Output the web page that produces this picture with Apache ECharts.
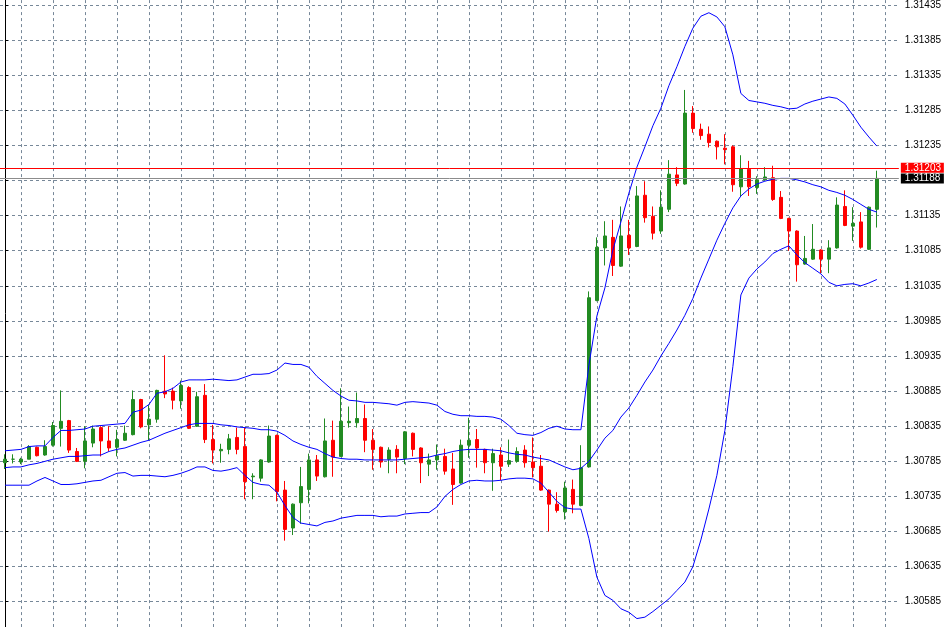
<!DOCTYPE html>
<html>
<head>
<meta charset="utf-8">
<script src="https://cdn.jsdelivr.net/npm/echarts@6.0.0/dist/echarts.min.js"></script>
<style>
html,body{margin:0;padding:0;background:#ffffff;}
#chart{width:944px;height:627px;}
</style>
</head>
<body>
<div id="chart"></div>
<script>
// ---- data (5-digit quotes) ----
const openP = [1.30783,1.30788,1.30784,1.30788,1.30805,1.30794,1.30808,1.30832,1.30843,1.30799,
 1.30785,1.30811,1.30833,1.30814,1.30805,1.30815,1.30823,1.30873,1.30837,1.30845,
 1.30885,1.30885,1.30871,1.30890,1.30835,1.30879,1.30816,1.30800,1.30802,1.30819,
 1.30806,1.30763,1.30761,1.30784,1.30822,1.30744,1.30690,1.30726,1.30745,1.30787,
 1.30763,1.30815,1.30792,1.30840,1.30840,1.30846,1.30815,1.30805,1.30788,1.30802,
 1.30789,1.30825,1.30804,1.30781,1.30787,1.30792,1.30774,1.30754,1.30808,1.30816,
 1.30802,1.30783,1.30794,1.30781,1.30785,1.30801,1.30784,1.30778,1.30744,1.30724,
 1.30713,1.30745,1.30722,1.30777,1.31014,1.31089,1.31104,1.31063,1.31107,1.31091,
 1.31164,1.31134,1.31113,1.31144,1.31193,1.31180,1.31281,1.31258,1.31251,1.31241,
 1.31231,1.31233,1.31176,1.31201,1.31175,1.31186,1.31189,1.31161,1.31131,1.31113,
 1.31066,1.31073,1.31086,1.31073,1.31089,1.31148,1.31120,1.31126,1.31087,1.31144];

const highP = [1.30795,1.30795,1.30790,1.30808,1.30806,1.30815,1.30841,1.30886,1.30844,1.30804,
 1.30835,1.30836,1.30835,1.30835,1.30830,1.30836,1.30886,1.30874,1.30865,1.30887,
 1.30936,1.30890,1.30900,1.30892,1.30884,1.30895,1.30837,1.30810,1.30824,1.30833,
 1.30833,1.30768,1.30788,1.30836,1.30823,1.30757,1.30725,1.30777,1.30796,1.30794,
 1.30846,1.30843,1.30889,1.30863,1.30883,1.30866,1.30831,1.30806,1.30805,1.30808,
 1.30828,1.30826,1.30805,1.30796,1.30809,1.30803,1.30797,1.30816,1.30847,1.30831,
 1.30803,1.30803,1.30805,1.30816,1.30805,1.30808,1.30819,1.30794,1.30745,1.30741,
 1.30756,1.30759,1.30808,1.31027,1.31104,1.31127,1.31129,1.31148,1.31129,1.31177,
 1.31184,1.31148,1.31171,1.31214,1.31204,1.31314,1.31291,1.31266,1.31262,1.31242,
 1.31251,1.31235,1.31221,1.31213,1.31191,1.31204,1.31206,1.31170,1.31132,1.31114,
 1.31106,1.31123,1.31087,1.31100,1.31161,1.31171,1.31147,1.31140,1.31148,1.31199];

const lowP = [1.30774,1.30782,1.30781,1.30788,1.30792,1.30793,1.30806,1.30806,1.30797,1.30784,
 1.30775,1.30805,1.30792,1.30799,1.30792,1.30814,1.30822,1.30832,1.30815,1.30840,
 1.30875,1.30859,1.30860,1.30831,1.30834,1.30811,1.30782,1.30783,1.30795,1.30795,
 1.30731,1.30731,1.30756,1.30783,1.30728,1.30672,1.30680,1.30696,1.30725,1.30757,
 1.30762,1.30763,1.30791,1.30833,1.30833,1.30798,1.30773,1.30776,1.30768,1.30768,
 1.30781,1.30792,1.30754,1.30764,1.30773,1.30766,1.30723,1.30753,1.30790,1.30776,
 1.30768,1.30743,1.30758,1.30777,1.30783,1.30776,1.30762,1.30743,1.30685,1.30712,
 1.30702,1.30711,1.30721,1.30776,1.31013,1.31064,1.31049,1.31062,1.31079,1.31090,
 1.31125,1.31101,1.31109,1.31140,1.31177,1.31179,1.31253,1.31243,1.31232,1.31215,
 1.31208,1.31169,1.31162,1.31163,1.31166,1.31185,1.31156,1.31130,1.31085,1.31041,
 1.31065,1.31072,1.31053,1.31053,1.31088,1.31120,1.31099,1.31088,1.31086,1.31118];

const closeP = [1.30788,1.30788,1.30788,1.30806,1.30793,1.30806,1.30836,1.30842,1.30801,1.30785,
 1.30814,1.30831,1.30814,1.30804,1.30816,1.30825,1.30873,1.30834,1.30845,1.30886,
 1.30881,1.30872,1.30893,1.30832,1.30877,1.30816,1.30801,1.30802,1.30817,1.30802,
 1.30756,1.30764,1.30787,1.30821,1.30742,1.30688,1.30724,1.30749,1.30787,1.30764,
 1.30814,1.30791,1.30842,1.30842,1.30846,1.30815,1.30802,1.30784,1.30801,1.30791,
 1.30827,1.30802,1.30783,1.30787,1.30793,1.30771,1.30752,1.30808,1.30815,1.30804,
 1.30783,1.30796,1.30778,1.30786,1.30799,1.30783,1.30776,1.30744,1.30724,1.30715,
 1.30747,1.30724,1.30776,1.31018,1.31090,1.31106,1.31064,1.31106,1.31089,1.31163,
 1.31132,1.31110,1.31147,1.31194,1.31181,1.31281,1.31259,1.31249,1.31239,1.31233,
 1.31229,1.31179,1.31202,1.31176,1.31186,1.31190,1.31158,1.31131,1.31113,1.31065,
 1.31074,1.31087,1.31073,1.31089,1.31150,1.31121,1.31124,1.31090,1.31147,1.31188];

const bbUpper = [1.30800,1.30801,1.30802,1.30806,1.30807,1.30807,1.30819,1.30829,1.30829,1.30830,
 1.30831,1.30835,1.30836,1.30837,1.30838,1.30839,1.30855,1.30858,1.30866,1.30882,
 1.30884,1.30889,1.30898,1.30901,1.30901,1.30901,1.30902,1.30901,1.30900,1.30901,
 1.30905,1.30909,1.30909,1.30910,1.30915,1.30925,1.30923,1.30923,1.30919,1.30906,
 1.30896,1.30886,1.30878,1.30872,1.30871,1.30869,1.30869,1.30868,1.30867,1.30865,
 1.30869,1.30870,1.30869,1.30868,1.30865,1.30856,1.30852,1.30850,1.30850,1.30849,
 1.30849,1.30848,1.30845,1.30836,1.30825,1.30823,1.30822,1.30826,1.30832,1.30835,
 1.30831,1.30830,1.30830,1.30922,1.30992,1.31032,1.31086,1.31126,1.31167,1.31204,
 1.31233,1.31263,1.31288,1.31320,1.31347,1.31376,1.31402,1.31419,1.31424,1.31418,
 1.31404,1.31364,1.31309,1.31299,1.31297,1.31295,1.31292,1.31290,1.31287,1.31288,
 1.31294,1.31298,1.31301,1.31304,1.31302,1.31294,1.31278,1.31261,1.31247,1.31234];

const bbMiddle = [1.30776,1.30777,1.30777,1.30780,1.30782,1.30785,1.30788,1.30790,1.30792,1.30792,
 1.30793,1.30794,1.30794,1.30799,1.30802,1.30804,1.30808,1.30812,1.30815,1.30820,
 1.30825,1.30829,1.30833,1.30837,1.30839,1.30839,1.30839,1.30837,1.30836,1.30834,
 1.30833,1.30832,1.30830,1.30830,1.30828,1.30822,1.30814,1.30809,1.30805,1.30802,
 1.30796,1.30791,1.30789,1.30788,1.30788,1.30787,1.30787,1.30787,1.30787,1.30787,
 1.30788,1.30789,1.30790,1.30791,1.30794,1.30796,1.30799,1.30801,1.30802,1.30802,
 1.30802,1.30801,1.30800,1.30797,1.30795,1.30794,1.30791,1.30789,1.30787,1.30782,
 1.30777,1.30773,1.30775,1.30785,1.30801,1.30818,1.30829,1.30848,1.30861,1.30879,
 1.30898,1.30915,1.30935,1.30953,1.30972,1.30993,1.31017,1.31046,1.31073,1.31100,
 1.31124,1.31146,1.31163,1.31173,1.31180,1.31184,1.31187,1.31188,1.31188,1.31186,
 1.31183,1.31179,1.31176,1.31171,1.31168,1.31164,1.31158,1.31151,1.31144,1.31140];

const bbLower = [1.30751,1.30751,1.30751,1.30751,1.30757,1.30762,1.30757,1.30752,1.30752,1.30753,
 1.30755,1.30757,1.30758,1.30763,1.30768,1.30769,1.30764,1.30765,1.30765,1.30764,
 1.30763,1.30765,1.30768,1.30772,1.30777,1.30777,1.30772,1.30771,1.30773,1.30776,
 1.30765,1.30755,1.30752,1.30751,1.30741,1.30722,1.30705,1.30697,1.30695,1.30693,
 1.30698,1.30700,1.30704,1.30706,1.30708,1.30708,1.30708,1.30706,1.30707,1.30707,
 1.30710,1.30711,1.30712,1.30712,1.30720,1.30735,1.30745,1.30752,1.30757,1.30758,
 1.30757,1.30757,1.30758,1.30760,1.30761,1.30761,1.30760,1.30754,1.30741,1.30728,
 1.30719,1.30717,1.30717,1.30675,1.30620,1.30594,1.30587,1.30575,1.30570,1.30561,
 1.30563,1.30571,1.30580,1.30589,1.30601,1.30613,1.30635,1.30673,1.30717,1.30765,
 1.30829,1.30920,1.31022,1.31046,1.31059,1.31069,1.31081,1.31087,1.31092,1.31079,
 1.31068,1.31060,1.31052,1.31040,1.31035,1.31037,1.31038,1.31035,1.31039,1.31044];

const priceTicks = [1.30585,1.30635,1.30685,1.30735,1.30785,1.30835,1.30885,1.30935,1.30985,
 1.31035,1.31085,1.31135,1.31185,1.31235,1.31285,1.31335,1.31385,1.31435];
const priceLabels = [1.30585,1.30635,1.30685,1.30735,1.30785,1.30835,1.30885,1.30935,1.30985,
 1.31035,1.31085,1.31135,1.31235,1.31285,1.31335,1.31385,1.31435];
const timeGridBars = [2,6,10,14,18,22,26,30,34,38,42,46,50,54,58,62,66,70,74,78,82,86,90,94,98,102,106,110];
const askPrice = 1.31203;
const bidPrice = 1.31188;

// ---- axis ranges ----
const X_MIN = -0.625, X_MAX = 111.75;
const Y_MIN = 1.30549, Y_MAX = 1.31442;

// ---- build series data ----
const candles = openP.map((o, i) => [i, o, closeP[i], lowP[i], highP[i]]);
const toLine = arr => arr.map((v, i) => [i, v]);

const FONT = '"Liberation Sans", Arial, sans-serif';
const GRID_COLOR = '#778899';

function priceLine(value, lineColor, bg) {
  return [
    {coord: [X_MIN, value], lineStyle: {color: lineColor, width: 1, type: 'solid'},
     label: {
       show: true, position: 'end', distance: 2,
       formatter: value.toFixed(5),
       color: '#ffffff', backgroundColor: bg,
       fontSize: 10, fontFamily: FONT,
       padding: [0, 4, 0, 4], width: 35, height: 10, lineHeight: 10
     }},
    {coord: [X_MAX, value]}
  ];
}

const chart = echarts.init(document.getElementById('chart'), null, {renderer: 'canvas'});
chart.setOption({
  animation: false,
  backgroundColor: '#ffffff',
  grid: {left: 0, right: 45, top: 0, bottom: 0, containLabel: false},
  xAxis: {
    type: 'value',
    min: X_MIN,
    max: X_MAX,
    axisLine: {show: false},
    axisLabel: {show: false},
    axisTick: {show: false, customValues: timeGridBars},
    splitLine: {show: true, lineStyle: {color: GRID_COLOR, type: [3, 3], width: 1}}
  },
  yAxis: {
    type: 'value',
    position: 'right',
    min: Y_MIN,
    max: Y_MAX,
    scale: true,
    axisLine: {show: true, lineStyle: {color: '#000000', width: 1}},
    axisTick: {show: true, length: 3, inside: false, customValues: priceTicks, lineStyle: {color: '#000000'}},
    axisLabel: {
      show: true, customValues: priceLabels, margin: 6,
      color: '#000000', fontSize: 10, fontFamily: FONT,
      formatter: v => Number(v).toFixed(5)
    },
    splitLine: {show: true, lineStyle: {color: GRID_COLOR, type: [3, 3], width: 1}}
  },
  series: [
    {
      type: 'candlestick',
      name: 'price',
      data: candles,
      encode: {x: 0, y: [1, 2, 3, 4]},
      barWidth: 4,
      z: 2,
      itemStyle: {
        color: '#228b22', color0: '#ff0000',
        borderColor: '#228b22', borderColor0: '#ff0000',
        borderWidth: 1
      }
    },
    {type: 'line', name: 'BB upper', data: toLine(bbUpper), symbol: 'none', z: 3,
     lineStyle: {color: '#0000ff', width: 1}},
    {type: 'line', name: 'BB middle', data: toLine(bbMiddle), symbol: 'none', z: 3,
     lineStyle: {color: '#0000ff', width: 1},
     markLine: {
       silent: true,
       symbol: ['none', 'none'],
       animation: false,
       z: 5,
       data: [
         priceLine(bidPrice, '#8c8c8c', '#000000'),
         priceLine(askPrice, '#ff0000', '#ff0000')
       ]
     }},
    {type: 'line', name: 'BB lower', data: toLine(bbLower), symbol: 'none', z: 3,
     lineStyle: {color: '#0000ff', width: 1}}
  ]
});
</script>
</body>
</html>
